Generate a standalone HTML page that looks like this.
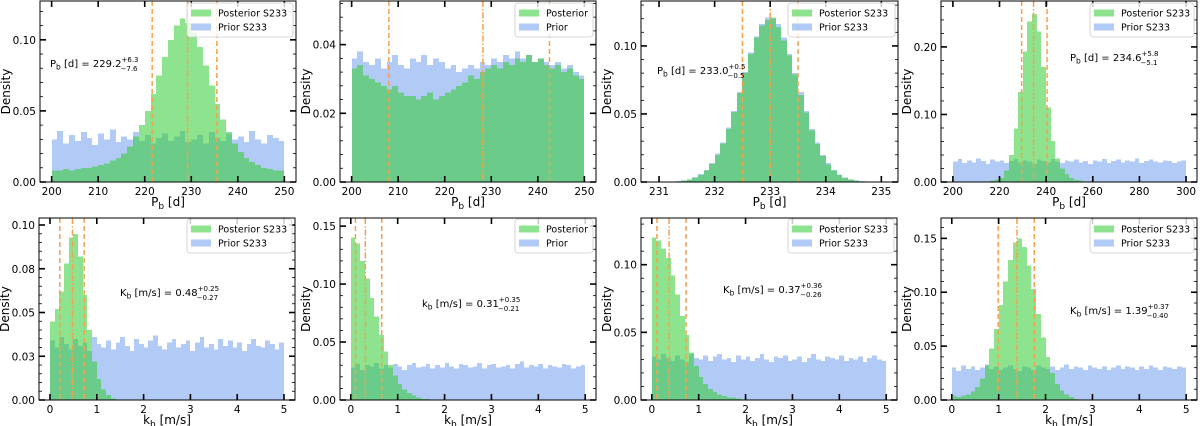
<!DOCTYPE html>
<html><head><meta charset="utf-8"><style>
html,body{margin:0;padding:0;background:#fff;}
svg{display:block;font-family:"DejaVu Sans","Liberation Sans",sans-serif;}
</style></head><body>
<svg id="fig" width="1200" height="426" viewBox="0 0 1200 426" xmlns="http://www.w3.org/2000/svg"></svg>
<script>
// ---- data ----
const prior1=[0.030,0.036,0.027,0.033,0.029,0.035,0.031,0.026,0.034,0.030,0.037,0.028,0.032,0.030,0.035,0.029,0.033,0.027,0.031,0.034,0.029,0.032,0.036,0.028,0.030,0.033,0.027,0.035,0.031,0.029,0.034,0.030,0.032,0.028,0.036,0.030,0.027,0.033,0.031,0.029];
const post1=[0.008,0.008,0.009,0.008,0.009,0.010,0.010,0.011,0.012,0.013,0.015,0.017,0.020,0.025,0.032,0.040,0.050,0.062,0.075,0.088,0.100,0.110,0.115,0.112,0.105,0.095,0.082,0.068,0.055,0.044,0.035,0.027,0.021,0.017,0.014,0.012,0.010,0.009,0.008,0.008];
const prior2=[0.036,0.038,0.035,0.034,0.036,0.033,0.035,0.037,0.034,0.033,0.036,0.035,0.037,0.034,0.036,0.035,0.033,0.034,0.032,0.033,0.034,0.033,0.035,0.034,0.036,0.035,0.037,0.036,0.038,0.036,0.037,0.035,0.036,0.035,0.034,0.035,0.033,0.034,0.032,0.031];
const post2=[0.033,0.034,0.031,0.030,0.029,0.028,0.027,0.028,0.026,0.025,0.025,0.024,0.025,0.026,0.024,0.025,0.026,0.027,0.028,0.029,0.031,0.030,0.032,0.033,0.034,0.033,0.035,0.034,0.036,0.035,0.037,0.035,0.036,0.034,0.033,0.034,0.032,0.033,0.031,0.030];
const prior3=[0,0,0.0002,0.0004,0.0007,0.0012,0.002,0.0035,0.0058,0.009,0.014,0.021,0.029,0.040,0.052,0.066,0.081,0.095,0.107,0.116,0.121,0.120,0.116,0.106,0.094,0.080,0.066,0.052,0.039,0.029,0.020,0.014,0.009,0.0055,0.0033,0.002,0.0012,0.0007,0.0004,0.0002,0,0];
const post3=[0,0,0.0001,0.0003,0.0005,0.001,0.0018,0.0031,0.0053,0.0085,0.0132,0.0197,0.0283,0.039,0.0515,0.0655,0.080,0.094,0.106,0.115,0.119,0.121,0.114,0.104,0.093,0.079,0.064,0.051,0.038,0.028,0.019,0.013,0.0085,0.005,0.003,0.0018,0.001,0.0005,0.0003,0.0001,0,0];
const prior4=[0.030,0.034,0.028,0.032,0.029,0.035,0.031,0.027,0.033,0.030,0.032,0.028,0.031,0.034,0.029,0.032,0.030,0.027,0.033,0.031,0.029,0.034,0.030,0.028,0.032,0.030,0.033,0.029,0.031,0.027,0.032,0.030,0.034,0.028,0.031,0.033,0.029,0.032,0.030,0.035,0.028,0.031,0.033,0.030,0.029,0.032,0.031,0.028,0.030,0.032];
const post4=[0.001,0.001,0.001,0.001,0.001,0.001,0.001,0.001,0.002,0.004,0.006,0.017,0.040,0.079,0.133,0.193,0.238,0.249,0.223,0.170,0.110,0.061,0.035,0.020,0.012,0.006,0.003,0.002,0.001,0.001,0,0,0,0,0,0,0,0,0,0,0,0,0,0,0,0,0,0,0,0];
const prior5=[0.034,0.030,0.036,0.032,0.029,0.035,0.031,0.033,0.028,0.036,0.032,0.030,0.034,0.029,0.033,0.036,0.031,0.028,0.035,0.032,0.030,0.034,0.037,0.031,0.029,0.033,0.035,0.030,0.032,0.034,0.028,0.033,0.036,0.030,0.032,0.029,0.035,0.031,0.034,0.030,0.033,0.028,0.032,0.035,0.031,0.030,0.034,0.032,0.029,0.033];
const post5=[0.045,0.052,0.062,0.078,0.093,0.095,0.082,0.060,0.040,0.022,0.012,0.006,0.003,0.001,0,0,0,0,0,0,0,0,0,0,0,0,0,0,0,0,0,0,0,0,0,0,0,0,0,0,0,0,0,0,0,0,0,0,0,0];
const prior6=[0.028,0.031,0.026,0.030,0.029,0.032,0.027,0.030,0.028,0.031,0.029,0.026,0.030,0.032,0.028,0.029,0.031,0.027,0.030,0.028,0.032,0.029,0.027,0.031,0.030,0.028,0.029,0.032,0.027,0.030,0.031,0.028,0.029,0.030,0.027,0.031,0.033,0.028,0.030,0.029,0.031,0.027,0.030,0.029,0.028,0.031,0.030,0.027,0.029,0.030];
const post6=[0.140,0.135,0.120,0.105,0.088,0.072,0.056,0.042,0.030,0.021,0.014,0.009,0.006,0.004,0.002,0.001,0.001,0,0,0,0,0,0,0,0,0,0,0,0,0,0,0,0,0,0,0,0,0,0,0,0,0,0,0,0,0,0,0,0,0];
const prior7=[0.032,0.030,0.034,0.031,0.029,0.033,0.030,0.028,0.034,0.031,0.030,0.033,0.029,0.032,0.034,0.030,0.031,0.028,0.033,0.030,0.032,0.029,0.031,0.034,0.030,0.028,0.032,0.031,0.033,0.029,0.030,0.032,0.028,0.031,0.034,0.030,0.029,0.032,0.031,0.030,0.033,0.029,0.031,0.030,0.032,0.028,0.031,0.033,0.030,0.029];
const post7=[0.120,0.118,0.112,0.105,0.092,0.078,0.062,0.048,0.035,0.025,0.017,0.012,0.008,0.006,0.004,0.003,0.002,0.002,0.001,0,0,0,0,0,0,0,0,0,0,0,0,0,0,0,0,0,0,0,0,0,0,0,0,0,0,0,0,0,0,0];
const prior8=[0.030,0.027,0.032,0.029,0.031,0.028,0.030,0.033,0.029,0.031,0.028,0.030,0.032,0.029,0.027,0.031,0.030,0.028,0.032,0.030,0.029,0.031,0.028,0.030,0.033,0.029,0.031,0.030,0.028,0.032,0.030,0.029,0.031,0.028,0.030,0.032,0.029,0.031,0.030,0.028,0.031,0.029,0.032,0.030,0.028,0.031,0.030,0.029,0.031,0.030];
const post8=[0.004,0.003,0.004,0.005,0.008,0.012,0.020,0.032,0.048,0.066,0.088,0.110,0.130,0.146,0.150,0.142,0.125,0.103,0.080,0.058,0.040,0.025,0.015,0.009,0.005,0.003,0.001,0,0,0,0,0,0,0,0,0,0,0,0,0,0,0,0,0,0,0,0,0,0,0];
const quant1=[221.6,229.2,235.5], quant2=[208.0,228.2,242.5], quant3=[232.5,233.0,233.5], quant4=[229.5,234.6,240.4];
const quant5=[0.21,0.48,0.73], quant6=[0.10,0.31,0.66], quant7=[0.11,0.37,0.73], quant8=[0.99,1.39,1.76];
const xticks1=[200,210,220,230,240,250], xticks3=[231,232,233,234,235], xticks4=[200,220,240,260,280,300], xticksK=[0,1,2,3,4,5];
const yticks1=[0,0.05,0.10], yticks2=[0,0.02,0.04], yticks4=[0,0.10,0.20], yticks5=[0,0.025,0.05,0.075,0.10], yticks6=[0,0.05,0.10,0.15];
const ylabels5=["0.00","0.03","0.05","0.08","0.10"];
const annVals=[["229.2","+6.3","−7.6"],null,["233.0","+0.5","−0.5"],["234.6","+5.8","−5.1"],["0.48","+0.25","−0.27"],["0.31","+0.35","−0.21"],["0.37","+0.36","−0.26"],["1.39","+0.37","−0.40"]];

const panels=[
 {L:40,R:296,T:1,B:182,xlo:197.5,xhi:252.5,ymax:0.1273,blo:200,bhi:250,prior:prior1,post:post1,q:quant1,xt:xticks1,yt:yticks1,minor:0.01,xl:"P",xs:"b",xu:" [d]",leg:["Posterior S233","Prior S233"],legX:187,ann:{x:50,y:67,v:annVals[0],p:"P",s:"b",u:" [d] = "}},
 {L:340,R:596,T:1,B:182,xlo:197.5,xhi:252.5,ymax:0.0527,blo:200,bhi:250,prior:prior2,post:post2,q:quant2,xt:xticks1,yt:yticks2,minor:0.004,xl:"P",xs:"b",xu:" [d]",leg:["Posterior","Prior"],legX:515},
 {L:641,R:898,T:1,B:182,xlo:230.675,xhi:235.3,ymax:0.133,blo:230.9,bhi:235.1,prior:prior3,post:post3,q:quant3,xt:xticks3,yt:yticks1,minor:0.01,xl:"P",xs:"b",xu:" [d]",leg:["Posterior S233","Prior S233"],legX:788,ann:{x:657,y:74,v:annVals[2],p:"P",s:"b",u:" [d] = "}},
 {L:941,R:1197,T:1,B:182,xlo:194.9,xhi:304.7,ymax:0.268,blo:200,bhi:300,prior:prior4,post:post4,q:quant4,xt:xticks4,yt:yticks4,minor:0.02,xl:"P",xs:"b",xu:" [d]",leg:["Posterior S233","Prior S233"],legX:1090,ann:{x:1070,y:61,v:annVals[3],p:"P",s:"b",u:" [d] = "}},
 {L:39,R:295,T:218,B:400,xlo:-0.235,xhi:5.235,ymax:0.104,blo:0,bhi:5,prior:prior5,post:post5,q:quant5,xt:xticksK,yt:yticks5,ylab:ylabels5,minor:0.005,xl:"k",xs:"b",xu:" [m/s]",leg:["Posterior S233","Prior S233"],legX:187,ann:{x:120,y:296,v:annVals[4],p:"K",s:"b",u:" [m/s] = "}},
 {L:340,R:596,T:218,B:400,xlo:-0.23,xhi:5.23,ymax:0.157,blo:0,bhi:5,prior:prior6,post:post6,q:quant6,xt:xticksK,yt:yticks6,minor:0.01,xl:"k",xs:"b",xu:" [m/s]",leg:["Posterior","Prior"],legX:515,ann:{x:422,y:307,v:annVals[5],p:"k",s:"b",u:" [m/s] = "}},
 {L:641,R:897,T:218,B:400,xlo:-0.23,xhi:5.23,ymax:0.1345,blo:0,bhi:5,prior:prior7,post:post7,q:quant7,xt:xticksK,yt:yticks1,minor:0.01,xl:"k",xs:"b",xu:" [m/s]",leg:["Posterior S233","Prior S233"],legX:788,ann:{x:723,y:293,v:annVals[6],p:"K",s:"b",u:" [m/s] = "}},
 {L:941,R:1197,T:218,B:400,xlo:-0.23,xhi:5.23,ymax:0.1689,blo:0,bhi:5,prior:prior8,post:post8,q:quant8,xt:xticksK,yt:yticks6,minor:0.01,xl:"k",xs:"b",xu:" [m/s]",leg:["Posterior S233","Prior S233"],legX:1090,ann:{x:1070,y:314,v:annVals[7],p:"K",s:"b",u:" [m/s] = "}}
];

const NS="http://www.w3.org/2000/svg";
const svg=document.getElementById('fig');
function mk(tag,attrs,parent){const e=document.createElementNS(NS,tag);for(const k in attrs)e.setAttribute(k,attrs[k]);(parent||svg).appendChild(e);return e;}
const BLUE="#6495ed", GREEN="#32cd32", ORANGE="#f7a04c";

panels.forEach((p,pi)=>{
  const g=mk('g',{});
  
  
  const sx=v=>p.L+(v-p.xlo)/(p.xhi-p.xlo)*(p.R-p.L);
  const sy=v=>p.B-v/p.ymax*(p.B-p.T);
  function hist(arr,color,op,name){
    const hg=mk('g',{'shape-rendering':'crispEdges'},g);
    
    
    const w=(p.bhi-p.blo)/arr.length;
    arr.forEach((v,i)=>{
      if(v<=0)return;
      const x0=Math.round(sx(p.blo+i*w)),x1=Math.round(sx(p.blo+(i+1)*w));
      const y=Math.max(p.T,sy(v));
      const r=mk('rect',{x:x0,y:y,width:Math.max(0.5,x1-x0),height:p.B-y,fill:color,'fill-opacity':op},hg);
      
      
    });
  }
  hist(p.prior,BLUE,0.5,'prior-histogram');
  hist(p.post,GREEN,0.55,'posterior-histogram');
  p.q.forEach((v,i)=>{
    const l=mk('line',{x1:sx(v),x2:sx(v),y1:p.T,y2:p.B,stroke:ORANGE,'stroke-width':1.5,'stroke-dasharray':i==1?'6,2,1.5,2':'5,3'},g);
    
    
  });
  const fr=mk('rect',{x:p.L,y:p.T,width:p.R-p.L,height:p.B-p.T,fill:'none',stroke:'#000','stroke-width':1},g);
  
  
  p.xt.forEach(v=>{
    const x=sx(v);
    mk('line',{x1:x,x2:x,y1:p.B,y2:p.B-6,stroke:'#000','stroke-width':1.6},g);
    mk('line',{x1:x,x2:x,y1:p.T,y2:p.T+6,stroke:'#000','stroke-width':1.6},g);
    const t=mk('text',{x:x,y:p.B+13,'font-size':10.5,'text-anchor':'middle',fill:'#000'},g);
    t.textContent=String(v);
    
    
  });
  for(let v=0;v<=p.ymax+1e-9;v+=p.minor){
    const y=sy(v);
    mk('line',{x1:p.L,x2:p.L+3,y1:y,y2:y,stroke:'#000','stroke-width':0.8},g);
    mk('line',{x1:p.R,x2:p.R-3,y1:y,y2:y,stroke:'#000','stroke-width':0.8},g);
  }
  p.yt.forEach((v,i)=>{
    const y=sy(v);
    mk('line',{x1:p.L,x2:p.L+6,y1:y,y2:y,stroke:'#000','stroke-width':1.6},g);
    mk('line',{x1:p.R,x2:p.R-6,y1:y,y2:y,stroke:'#000','stroke-width':1.6},g);
    const t=mk('text',{x:p.L-4,y:y+4,'font-size':10.5,'text-anchor':'end',fill:'#000'},g);
    t.textContent=p.ylab?p.ylab[i]:v.toFixed(2);
    
    
  });
  const yt=mk('text',{x:0,y:0,'font-size':12,'text-anchor':'middle',transform:`translate(${p.L-30},${(p.T+p.B)/2}) rotate(-90)`},g);
  yt.textContent='Density';
  
  
  const xt=mk('text',{x:(p.L+p.R)/2,y:p.B+24,'font-size':12,'text-anchor':'middle'},g);
  
  
  xt.innerHTML=`${p.xl}<tspan font-size="9" dy="3">${p.xs}</tspan><tspan dy="-3">${p.xu}</tspan>`;
  const lg=mk('g',{},g);
  
  
  const ly=p.T+(pi<4?2:1);
  mk('rect',{x:p.legX,y:ly,width:p.R-3-p.legX,height:34,rx:3,fill:'#fff','fill-opacity':0.8,stroke:'#ccc','stroke-width':0.8},lg);
  [[GREEN,0.55,p.leg[0]],[BLUE,0.5,p.leg[1]]].forEach((e,i)=>{
    const yy=ly+10+i*14;
    const en=mk('g',{},lg);
    
    
    mk('rect',{x:p.legX+4,y:yy-3.5,width:20,height:7,fill:e[0],'fill-opacity':e[1]},en);
    const t=mk('text',{x:p.legX+31,y:yy+3.5,'font-size':9.5},en);
    t.textContent=e[2];
  });
  if(p.ann){
    const a=p.ann;
    const t=mk('text',{x:a.x,y:a.y,'font-size':10},g);
    
    
    t.innerHTML=`${a.p}<tspan font-size="7.5" dy="2.5">${a.s}</tspan><tspan dy="-2.5">${a.u}${a.v[0]}</tspan><tspan font-size="7" dy="-5">${a.v[1]}</tspan>`;
    const bb=t.getBBox();
    const t2=mk('text',{x:bb.x+bb.width-1,y:a.y+4,'font-size':7,'text-anchor':'end'},g);
    t2.textContent=a.v[2];
  }
});
</script>
</body></html>
